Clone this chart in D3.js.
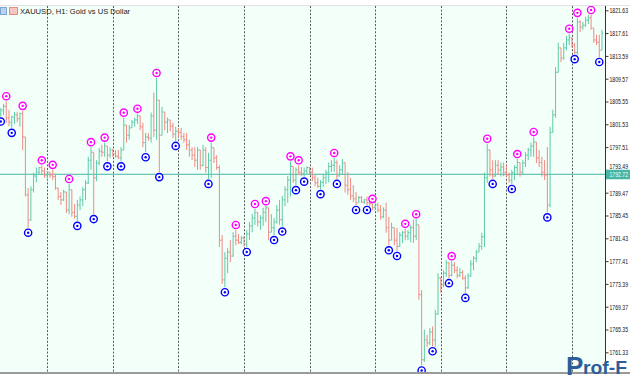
<!DOCTYPE html>
<html>
<head>
<meta charset="utf-8">
<script src="https://cdn.jsdelivr.net/npm/d3@7"></script>
<style>
  html, body { margin: 0; padding: 0; background: #fff; }
  svg { display: block; font-family: 'Liberation Sans', Arial, sans-serif; }
</style>
</head>
<body>
<svg id="chart" width="630" height="380"></svg>
<script>
(function () {

const symbolTitle = 'XAUUSD, H1:  Gold vs US Dollar';

// hourly OHLC bars, oldest first
const opens = [1803.4,1803.9,1804.7,1802.7,1801.9,1802.7,1803.2,1802.5,1803.4,1799.3,
  1789.1,1784.7,1790.0,1792.4,1793.1,1793.9,1793.3,1792.6,1793.1,1792.6,
  1792.3,1790.3,1788.8,1788.2,1789.6,1786.4,1790.0,1786.0,1785.3,1787.3,
  1788.2,1790.0,1791.2,1795.2,1796.6,1792.1,1794.7,1796.8,1796.6,1797.7,
  1796.1,1797.0,1796.3,1795.9,1795.6,1797.0,1801.4,1799.6,1800.9,1801.9,
  1802.3,1803.0,1801.1,1798.3,1799.3,1799.1,1803.0,1800.5,1805.8,1799.6,
  1803.7,1801.9,1802.3,1801.2,1799.8,1800.3,1800.1,1799.4,1798.8,1797.9,
  1797.0,1796.1,1795.2,1797.0,1794.3,1797.0,1793.9,1795.2,1797.4,1795.6,
  1793.9,1781.1,1774.1,1777.9,1779.0,1778.3,1781.8,1781.1,1780.7,1781.5,
  1780.4,1782.2,1783.6,1785.0,1786.0,1784.3,1785.0,1786.0,1786.8,1782.5,
  1783.3,1784.3,1786.4,1784.7,1788.2,1790.0,1791.7,1794.1,1791.7,1793.5,
  1793.1,1792.8,1793.3,1793.9,1793.1,1792.1,1791.2,1790.6,1791.3,1792.1,
  1793.0,1794.1,1794.3,1794.8,1792.4,1793.5,1794.8,1790.8,1790.0,1788.9,
  1788.4,1787.7,1788.6,1787.8,1788.2,1787.7,1787.5,1786.9,1787.3,1786.4,
  1785.2,1786.4,1783.3,1781.1,1783.3,1781.1,1780.0,1782.0,1782.5,1781.8,
  1782.4,1783.3,1781.8,1783.8,1771.5,1760.0,1763.5,1763.0,1764.9,1763.5,
  1768.1,1774.4,1773.2,1775.3,1777.1,1774.9,1776.7,1775.8,1774.9,1775.4,
  1774.4,1772.7,1774.8,1776.9,1777.9,1779.0,1780.0,1781.7,1792.1,1797.0,
  1793.5,1792.4,1794.3,1793.5,1794.0,1793.1,1792.6,1791.7,1793.0,1793.9,
  1794.8,1793.1,1794.7,1796.1,1797.0,1797.7,1798.4,1795.6,1794.8,1793.1,
  1792.6,1787.3,1800.1,1803.2,1810.7,1815.0,1813.2,1815.0,1816.4,1816.8,
  1815.5,1814.2,1819.6,1818.7,1819.0,1819.9,1820.3,1818.5,1816.4,1816.0,
  1814.6];
const highs = [1804.4,1805.1,1805.6,1804.1,1803.0,1803.7,1803.7,1803.6,1803.9,1799.3,
  1790.3,1790.6,1793.0,1793.9,1794.0,1794.3,1793.9,1793.3,1793.1,1793.5,
  1792.8,1790.3,1789.6,1790.0,1789.6,1791.0,1790.0,1787.5,1788.2,1788.8,
  1790.5,1791.7,1795.8,1797.5,1796.6,1795.2,1797.4,1797.9,1798.3,1797.7,
  1797.5,1797.2,1797.0,1797.0,1797.5,1802.7,1801.4,1801.4,1802.3,1802.7,
  1803.4,1803.0,1801.8,1800.0,1800.0,1803.6,1807.1,1809.7,1805.8,1804.6,
  1803.7,1802.7,1802.3,1801.8,1801.1,1800.9,1800.9,1800.0,1800.0,1798.8,
  1797.5,1797.5,1797.5,1797.0,1797.9,1797.5,1796.5,1798.3,1797.4,1796.1,
  1794.3,1782.0,1779.0,1779.7,1781.1,1782.5,1782.9,1782.2,1781.8,1781.8,
  1782.9,1784.3,1785.7,1786.6,1786.0,1785.5,1786.8,1787.1,1786.8,1785.7,
  1785.0,1787.3,1788.2,1788.9,1790.6,1792.4,1795.0,1794.1,1793.9,1794.3,
  1794.0,1793.9,1794.1,1794.0,1793.9,1792.6,1792.1,1791.7,1792.6,1793.5,
  1794.8,1795.2,1795.6,1795.2,1794.3,1795.4,1794.8,1793.1,1792.1,1790.8,
  1789.6,1788.9,1788.9,1788.4,1788.8,1788.6,1787.5,1787.7,1787.7,1787.3,
  1786.9,1787.7,1785.2,1784.2,1783.3,1783.3,1782.5,1782.7,1783.1,1782.9,
  1783.8,1784.7,1784.8,1783.8,1772.3,1765.3,1764.4,1765.6,1765.9,1768.8,
  1775.3,1774.6,1775.8,1777.6,1777.2,1777.4,1777.2,1776.5,1776.2,1775.8,
  1774.9,1775.3,1777.6,1778.3,1779.4,1780.6,1782.4,1793.0,1798.1,1797.0,
  1795.2,1795.2,1795.2,1794.8,1794.8,1794.3,1793.0,1793.5,1794.3,1795.4,
  1794.8,1795.2,1796.6,1797.4,1798.3,1799.3,1798.4,1797.0,1795.8,1795.2,
  1797.5,1801.1,1804.1,1811.6,1815.9,1815.0,1815.9,1817.1,1817.5,1816.8,
  1815.9,1820.3,1819.9,1819.6,1820.5,1820.8,1820.8,1818.5,1817.3,1817.3,
  1818.2];
const lows = [1802.9,1803.2,1801.8,1801.2,1800.9,1801.6,1801.9,1801.1,1797.0,1788.8,
  1783.3,1784.5,1789.5,1791.3,1792.6,1792.8,1792.1,1791.7,1792.1,1791.7,
  1790.0,1788.2,1787.3,1788.0,1785.9,1785.7,1785.2,1784.9,1784.5,1786.4,
  1787.1,1788.2,1791.0,1793.5,1785.7,1791.5,1794.3,1795.8,1795.8,1795.0,
  1795.6,1795.8,1795.6,1795.4,1795.0,1797.0,1798.3,1798.8,1800.9,1801.1,
  1801.6,1800.5,1797.5,1796.6,1798.6,1798.3,1799.3,1798.8,1793.1,1799.6,
  1800.5,1800.0,1800.3,1799.1,1798.6,1799.3,1798.8,1798.3,1797.0,1795.8,
  1795.2,1794.0,1793.5,1793.5,1794.1,1793.0,1791.9,1792.1,1794.7,1793.5,
  1779.9,1773.4,1772.8,1775.3,1777.2,1778.2,1780.2,1780.4,1780.4,1780.0,
  1779.9,1781.1,1782.5,1783.8,1783.5,1782.9,1783.6,1784.3,1781.1,1782.5,
  1782.0,1784.0,1783.8,1783.5,1787.1,1787.7,1788.8,1791.2,1790.8,1792.6,
  1792.4,1792.3,1792.8,1792.6,1791.5,1790.6,1790.3,1790.1,1790.5,1791.0,
  1791.3,1793.1,1793.1,1791.9,1792.4,1792.6,1789.5,1789.1,1788.2,1787.8,
  1787.3,1787.7,1787.7,1787.5,1787.3,1787.1,1786.4,1786.4,1786.0,1784.7,
  1785.0,1782.4,1780.2,1781.1,1780.2,1779.2,1779.9,1780.6,1781.1,1781.1,
  1780.7,1780.6,1781.1,1770.6,1759.0,1759.6,1762.3,1762.6,1762.4,1762.3,
  1767.9,1771.8,1772.8,1774.6,1774.4,1774.7,1775.3,1774.4,1774.6,1774.1,
  1771.8,1772.5,1774.6,1775.8,1777.2,1779.0,1779.4,1779.9,1791.2,1792.3,
  1791.9,1792.3,1792.6,1792.3,1792.4,1792.3,1791.2,1791.0,1791.7,1792.6,
  1792.3,1792.6,1794.0,1795.2,1795.8,1795.8,1794.7,1794.0,1792.3,1791.7,
  1786.0,1786.9,1800.1,1802.7,1810.7,1812.5,1812.9,1814.6,1815.5,1815.0,
  1813.9,1813.8,1817.8,1818.2,1818.7,1819.2,1818.2,1815.9,1815.5,1813.4,
  1814.6];
const closes = [1804.1,1804.7,1802.7,1801.9,1802.9,1803.2,1802.5,1803.4,1799.3,1789.1,
  1784.7,1790.0,1792.4,1793.1,1793.9,1793.3,1792.6,1793.1,1792.6,1792.3,
  1790.3,1788.8,1788.2,1789.6,1786.4,1790.0,1786.0,1785.3,1787.3,1788.2,
  1790.0,1791.2,1795.2,1796.6,1792.1,1794.7,1796.8,1796.6,1797.7,1796.1,
  1797.0,1796.3,1795.9,1795.6,1797.0,1801.4,1799.6,1800.9,1801.9,1802.3,
  1803.0,1801.1,1798.3,1799.3,1799.1,1803.0,1800.5,1805.8,1799.6,1803.7,
  1801.9,1802.3,1801.2,1799.8,1800.3,1800.1,1799.4,1798.8,1797.9,1797.0,
  1796.1,1795.2,1797.0,1794.3,1797.0,1793.9,1795.2,1797.4,1795.6,1793.9,
  1781.1,1774.1,1777.9,1779.0,1778.3,1781.8,1781.1,1780.7,1781.5,1780.4,
  1782.2,1783.6,1785.0,1786.0,1784.3,1785.0,1786.0,1786.8,1782.5,1783.3,
  1784.3,1786.4,1784.7,1788.2,1790.0,1791.7,1794.1,1791.7,1793.5,1793.1,
  1792.8,1793.3,1793.9,1793.1,1792.1,1791.2,1790.6,1791.3,1792.1,1793.0,
  1794.1,1794.3,1794.8,1792.4,1793.5,1794.7,1790.8,1790.0,1788.9,1788.4,
  1787.7,1788.6,1787.8,1788.2,1787.7,1787.5,1786.9,1787.3,1786.4,1785.2,
  1786.4,1783.3,1781.1,1783.3,1781.1,1780.0,1782.0,1782.5,1781.8,1782.4,
  1783.3,1781.8,1783.8,1771.5,1760.0,1763.5,1763.0,1764.9,1763.5,1768.1,
  1774.4,1773.2,1775.3,1777.1,1774.9,1776.7,1775.8,1774.9,1775.4,1774.4,
  1772.7,1774.8,1776.9,1777.9,1779.0,1780.0,1781.7,1792.1,1797.0,1793.5,
  1792.4,1794.3,1793.5,1794.0,1793.1,1792.6,1791.7,1793.0,1793.9,1794.8,
  1793.1,1794.7,1796.1,1797.0,1797.7,1798.4,1795.6,1794.8,1793.1,1792.6,
  1787.3,1800.1,1803.2,1810.7,1815.0,1813.2,1815.0,1816.4,1816.8,1815.5,
  1814.2,1819.6,1818.7,1819.0,1819.9,1820.3,1818.5,1816.4,1816.0,1814.6,
  1817.6];

// fractal arrows (bar index)
const fractalUp = [2, 8, 15, 19, 25, 33, 38, 45, 50, 57, 77, 86, 93, 97, 106, 109, 122, 136,
  148, 152, 165, 178, 189, 195, 208, 211, 216];
const fractalDown = [0, 4, 10, 28, 34, 39, 44, 53, 58, 64, 76, 82, 90, 100, 103, 108, 111, 117,
  123, 130, 134, 142, 145, 154, 158, 164, 170, 180, 187, 200, 210, 219];

// day separators (first bar of each day)
const daySeparators = [17, 41, 65, 89, 113, 137, 161, 185, 209];

const priceTicks = [1821.63, 1817.61, 1813.59, 1809.57, 1805.55, 1801.53, 1797.51, 1793.49,
  1789.47, 1785.45, 1781.43, 1777.41, 1773.39, 1769.37, 1765.35, 1761.33];
const hLinePrice = 1792.72;

const colorUp = '#5fcaa8',
  colorDown = '#f08a84',
  colorBg = '#f3fff9',
  colorLine = '#45b5a6';

const svg = d3.select('#chart'),
  width = +svg.attr('width'),
  height = +svg.attr('height'),
  plot = {left: 0, right: 605, top: 6, bottom: 372};

const x = d3.scaleLinear()
  .domain([0, opens.length - 1])
  .range([0.8, 602]);

const y = d3.scaleLinear()
  .domain([priceTicks[0], priceTicks[priceTicks.length - 1]])
  .range([10.3, 352.3]);

const bars = opens.map(function(o, i) {
  return {i: i, o: o, h: highs[i], l: lows[i], c: closes[i]};
});

// background
svg.append('rect')
  .attr('width', width)
  .attr('height', height)
  .attr('fill', '#fff');

svg.append('rect')
  .attr('x', plot.left)
  .attr('y', plot.top)
  .attr('width', plot.right - plot.left)
  .attr('height', plot.bottom - plot.top)
  .attr('fill', colorBg);

svg.append('line')
  .attr('x1', 0).attr('x2', width)
  .attr('y1', plot.top - 0.5).attr('y2', plot.top - 0.5)
  .attr('stroke', '#e2e2e2');

svg.append('defs').append('clipPath')
  .attr('id', 'plot-clip')
  .append('rect')
    .attr('x', plot.left)
    .attr('y', plot.top)
    .attr('width', plot.right - plot.left)
    .attr('height', plot.bottom - plot.top);

const g = svg.append('g')
  .attr('clip-path', 'url(#plot-clip)');

// period separators
g.selectAll('.sep')
    .data(daySeparators)
  .enter().append('line')
    .attr('class', 'sep')
    .attr('x1', function(d) { return Math.round(x(d)) + 0.5; })
    .attr('x2', function(d) { return Math.round(x(d)) + 0.5; })
    .attr('y1', plot.top)
    .attr('y2', plot.bottom)
    .attr('stroke', '#5a5a5a')
    .attr('stroke-width', 1)
    .attr('stroke-dasharray', '2,1.6');

// horizontal line
g.append('line')
  .attr('x1', plot.left).attr('x2', plot.right)
  .attr('y1', y(hLinePrice)).attr('y2', y(hLinePrice))
  .attr('stroke', colorLine)
  .attr('stroke-width', 1);

// ohlc bars
const bar = g.selectAll('.bar')
    .data(bars)
  .enter().append('g')
    .attr('class', 'bar')
    .attr('stroke', function(d) { return d.c >= d.o ? colorUp : colorDown; })
    .attr('stroke-width', 1);

bar.append('line')
    .attr('x1', function(d) { return x(d.i); })
    .attr('x2', function(d) { return x(d.i); })
    .attr('y1', function(d) { return y(d.h); })
    .attr('y2', function(d) { return y(d.l); });

bar.append('line')
    .attr('x1', function(d) { return x(d.i) - 1.3; })
    .attr('x2', function(d) { return x(d.i); })
    .attr('y1', function(d) { return y(d.o); })
    .attr('y2', function(d) { return y(d.o); });

bar.append('line')
    .attr('x1', function(d) { return x(d.i); })
    .attr('x2', function(d) { return x(d.i) + 1.3; })
    .attr('y1', function(d) { return y(d.c); })
    .attr('y2', function(d) { return y(d.c); });

// fractal markers
function makeMarkers(parent, idx, color, dy, key) {
  const m = parent.selectAll('.' + key)
      .data(idx)
    .enter().append('g')
      .attr('class', key)
      .attr('transform', function(d) {
        const py = key === 'up' ? y(highs[d]) : y(lows[d]);
        return 'translate(' + x(d) + ',' + (py + dy) + ')';
      });

  m.append('circle')
      .attr('r', 3.6)
      .attr('fill', '#fff')
      .attr('stroke', color)
      .attr('stroke-width', 1.4);

  m.append('circle')
      .attr('r', 1.2)
      .attr('fill', color);
}

makeMarkers(g, fractalUp, '#ff00ff', -5, 'up');
makeMarkers(g, fractalDown, '#0000ff', 5, 'down');

// price axis
const axis = svg.append('g')
  .attr('class', 'axis')
  .attr('transform', 'translate(' + (plot.right + 0.5) + ',0)')
  .call(d3.axisRight(y).tickValues(priceTicks).tickFormat(d3.format('.2f')).tickSize(3).tickSizeOuter(0));

axis.select('.domain').remove();
axis.selectAll('.tick line').attr('stroke', '#333');
axis.selectAll('.tick text')
  .attr('x', 4)
  .attr('fill', '#111')
  .attr('textLength', 18.5)
  .attr('lengthAdjust', 'spacingAndGlyphs')
  .attr('dy', function(d) { return Math.abs(y(d) - y(hLinePrice)) < 8 ? '-0.2em' : '0.32em'; })
  .style('font-size', '7.2px')
  .style('font-family', "'Liberation Sans', Arial, sans-serif");

svg.append('line')
  .attr('x1', plot.right + 0.5).attr('x2', plot.right + 0.5)
  .attr('y1', plot.top).attr('y2', plot.bottom)
  .attr('stroke', '#333');

// horizontal line label
svg.append('rect')
  .attr('x', plot.right + 1)
  .attr('y', y(hLinePrice) - 4.5)
  .attr('width', width - plot.right)
  .attr('height', 9.5)
  .attr('fill', colorLine);

svg.append('text')
  .attr('x', plot.right + 4.5)
  .attr('y', y(hLinePrice) + 3)
  .attr('fill', '#f4fffb')
  .attr('textLength', 18.5)
  .attr('lengthAdjust', 'spacingAndGlyphs')
  .style('font-size', '7.2px')
  .text(d3.format('.2f')(hLinePrice));

// bottom border
svg.append('rect')
  .attr('x', 0)
  .attr('y', plot.bottom)
  .attr('width', width)
  .attr('height', 2)
  .attr('fill', '#9a9a9a');

// title with small icons
svg.append('rect')
  .attr('x', 0.5).attr('y', 7.5)
  .attr('width', 6).attr('height', 7)
  .attr('fill', '#b9d3ef').attr('stroke', '#7fa4d0');
svg.append('rect')
  .attr('x', 9.5).attr('y', 7.5)
  .attr('width', 8).attr('height', 7)
  .attr('fill', '#f6c6c0').attr('stroke', '#e08f86');

svg.append('text')
  .attr('x', 20)
  .attr('y', 13.5)
  .attr('fill', '#222')
  .style('font-size', '7.6px')
  .text(symbolTitle);

// watermark
const wm = svg.append('g')
  .attr('class', 'watermark')
  .attr('fill', '#2d5d98');

wm.append('text')
  .attr('x', 566)
  .attr('y', 375)
  .style('font-size', '26px')
  .style('font-weight', 'bold')
  .text('P');

wm.append('text')
  .attr('x', 583)
  .attr('y', 374)
  .attr('textLength', 44)
  .attr('lengthAdjust', 'spacingAndGlyphs')
  .style('font-size', '19px')
  .style('font-weight', 'bold')
  .text('rof-F');

})();
</script>
</body>
</html>
